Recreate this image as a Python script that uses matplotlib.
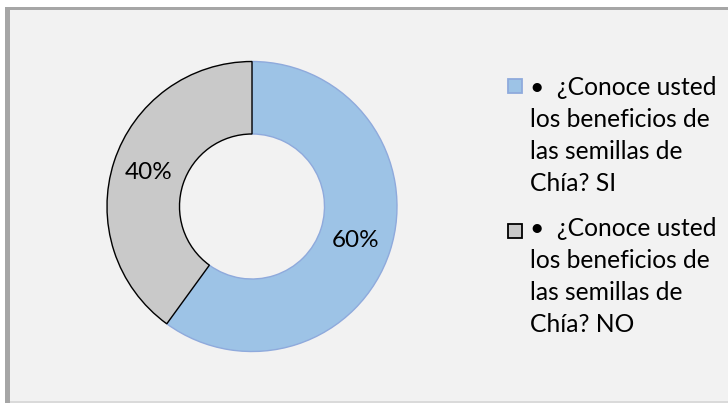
import matplotlib
matplotlib.use("Agg")
import matplotlib.pyplot as plt
from matplotlib.patches import Rectangle

plt.rcParams['font.family'] = ['Lato', 'DejaVu Sans']

# data
categories = ["•  ¿Conoce usted\nlos beneficios de\nlas semillas de\nChía? SI",
              "•  ¿Conoce usted\nlos beneficios de\nlas semillas de\nChía? NO"]
values = [60, 40]
colors = ['#9DC3E6', '#C9C9C9']
edges = ['#8FAADC', '#000000']

W, H = 728, 403
fig = plt.figure(figsize=(W / 100, H / 100), dpi=100)
fig.patch.set_facecolor('white')

# chart area background + border
fig.patches.append(Rectangle((10 / W, 0), 1, 1 - 10 / H, transform=fig.transFigure,
                             facecolor='#F2F2F2', edgecolor='none', zorder=-3))
fig.patches.append(Rectangle((5 / W, 0), 5 / W, 1 - 7 / H, transform=fig.transFigure,
                             facecolor='#A6A6A6', edgecolor='none', zorder=-2))
fig.patches.append(Rectangle((5 / W, 1 - 10 / H), 1, 3 / H, transform=fig.transFigure,
                             facecolor='#A6A6A6', edgecolor='none', zorder=-2))
fig.patches.append(Rectangle((10 / W, 0), 1, 2 / H, transform=fig.transFigure,
                             facecolor='#DADADA', edgecolor='none', zorder=-2))

# donut, centre (252, 206.5) px, radius 145 px
cx, cy, r = 252, 206.5, 145
ax = fig.add_axes([(cx - r) / W, (H - cy - r) / H, 2 * r / W, 2 * r / H])
ax.set_facecolor('none')
wedges, texts, autotexts = ax.pie(values, colors=colors, startangle=90, counterclock=False,
                                  autopct='%1.0f%%', pctdistance=0.75, radius=1,
                                  wedgeprops=dict(width=0.5, linewidth=1.0),
                                  textprops=dict(fontsize=17.5, color='#000000'))
for w, ec in zip(wedges, edges):
    w.set_edgecolor(ec)
ax.set_xlim(-1, 1)
ax.set_ylim(-1, 1)
ax.axis('off')

# legend, drawn by hand so the box sits on the first line
text_tops = [87.5, 229]
box_mids = [86, 231]
for lab, col, ec, y0, yb in zip(categories, colors, edges, text_tops, box_mids):
    fig.patches.append(Rectangle((508 / W, 1 - (yb + 7) / H), 14 / W, 14 / H,
                                 transform=fig.transFigure, facecolor=col,
                                 edgecolor=ec, linewidth=1.3, zorder=3))
    for i, line in enumerate(lab.split('\n')):
        fig.text(530 / W, 1 - (y0 + 32 * i) / H, line, fontsize=17.7,
                 va='center', ha='left', color='#000000')

fig.savefig('out.png', dpi=100, facecolor=fig.get_facecolor())
